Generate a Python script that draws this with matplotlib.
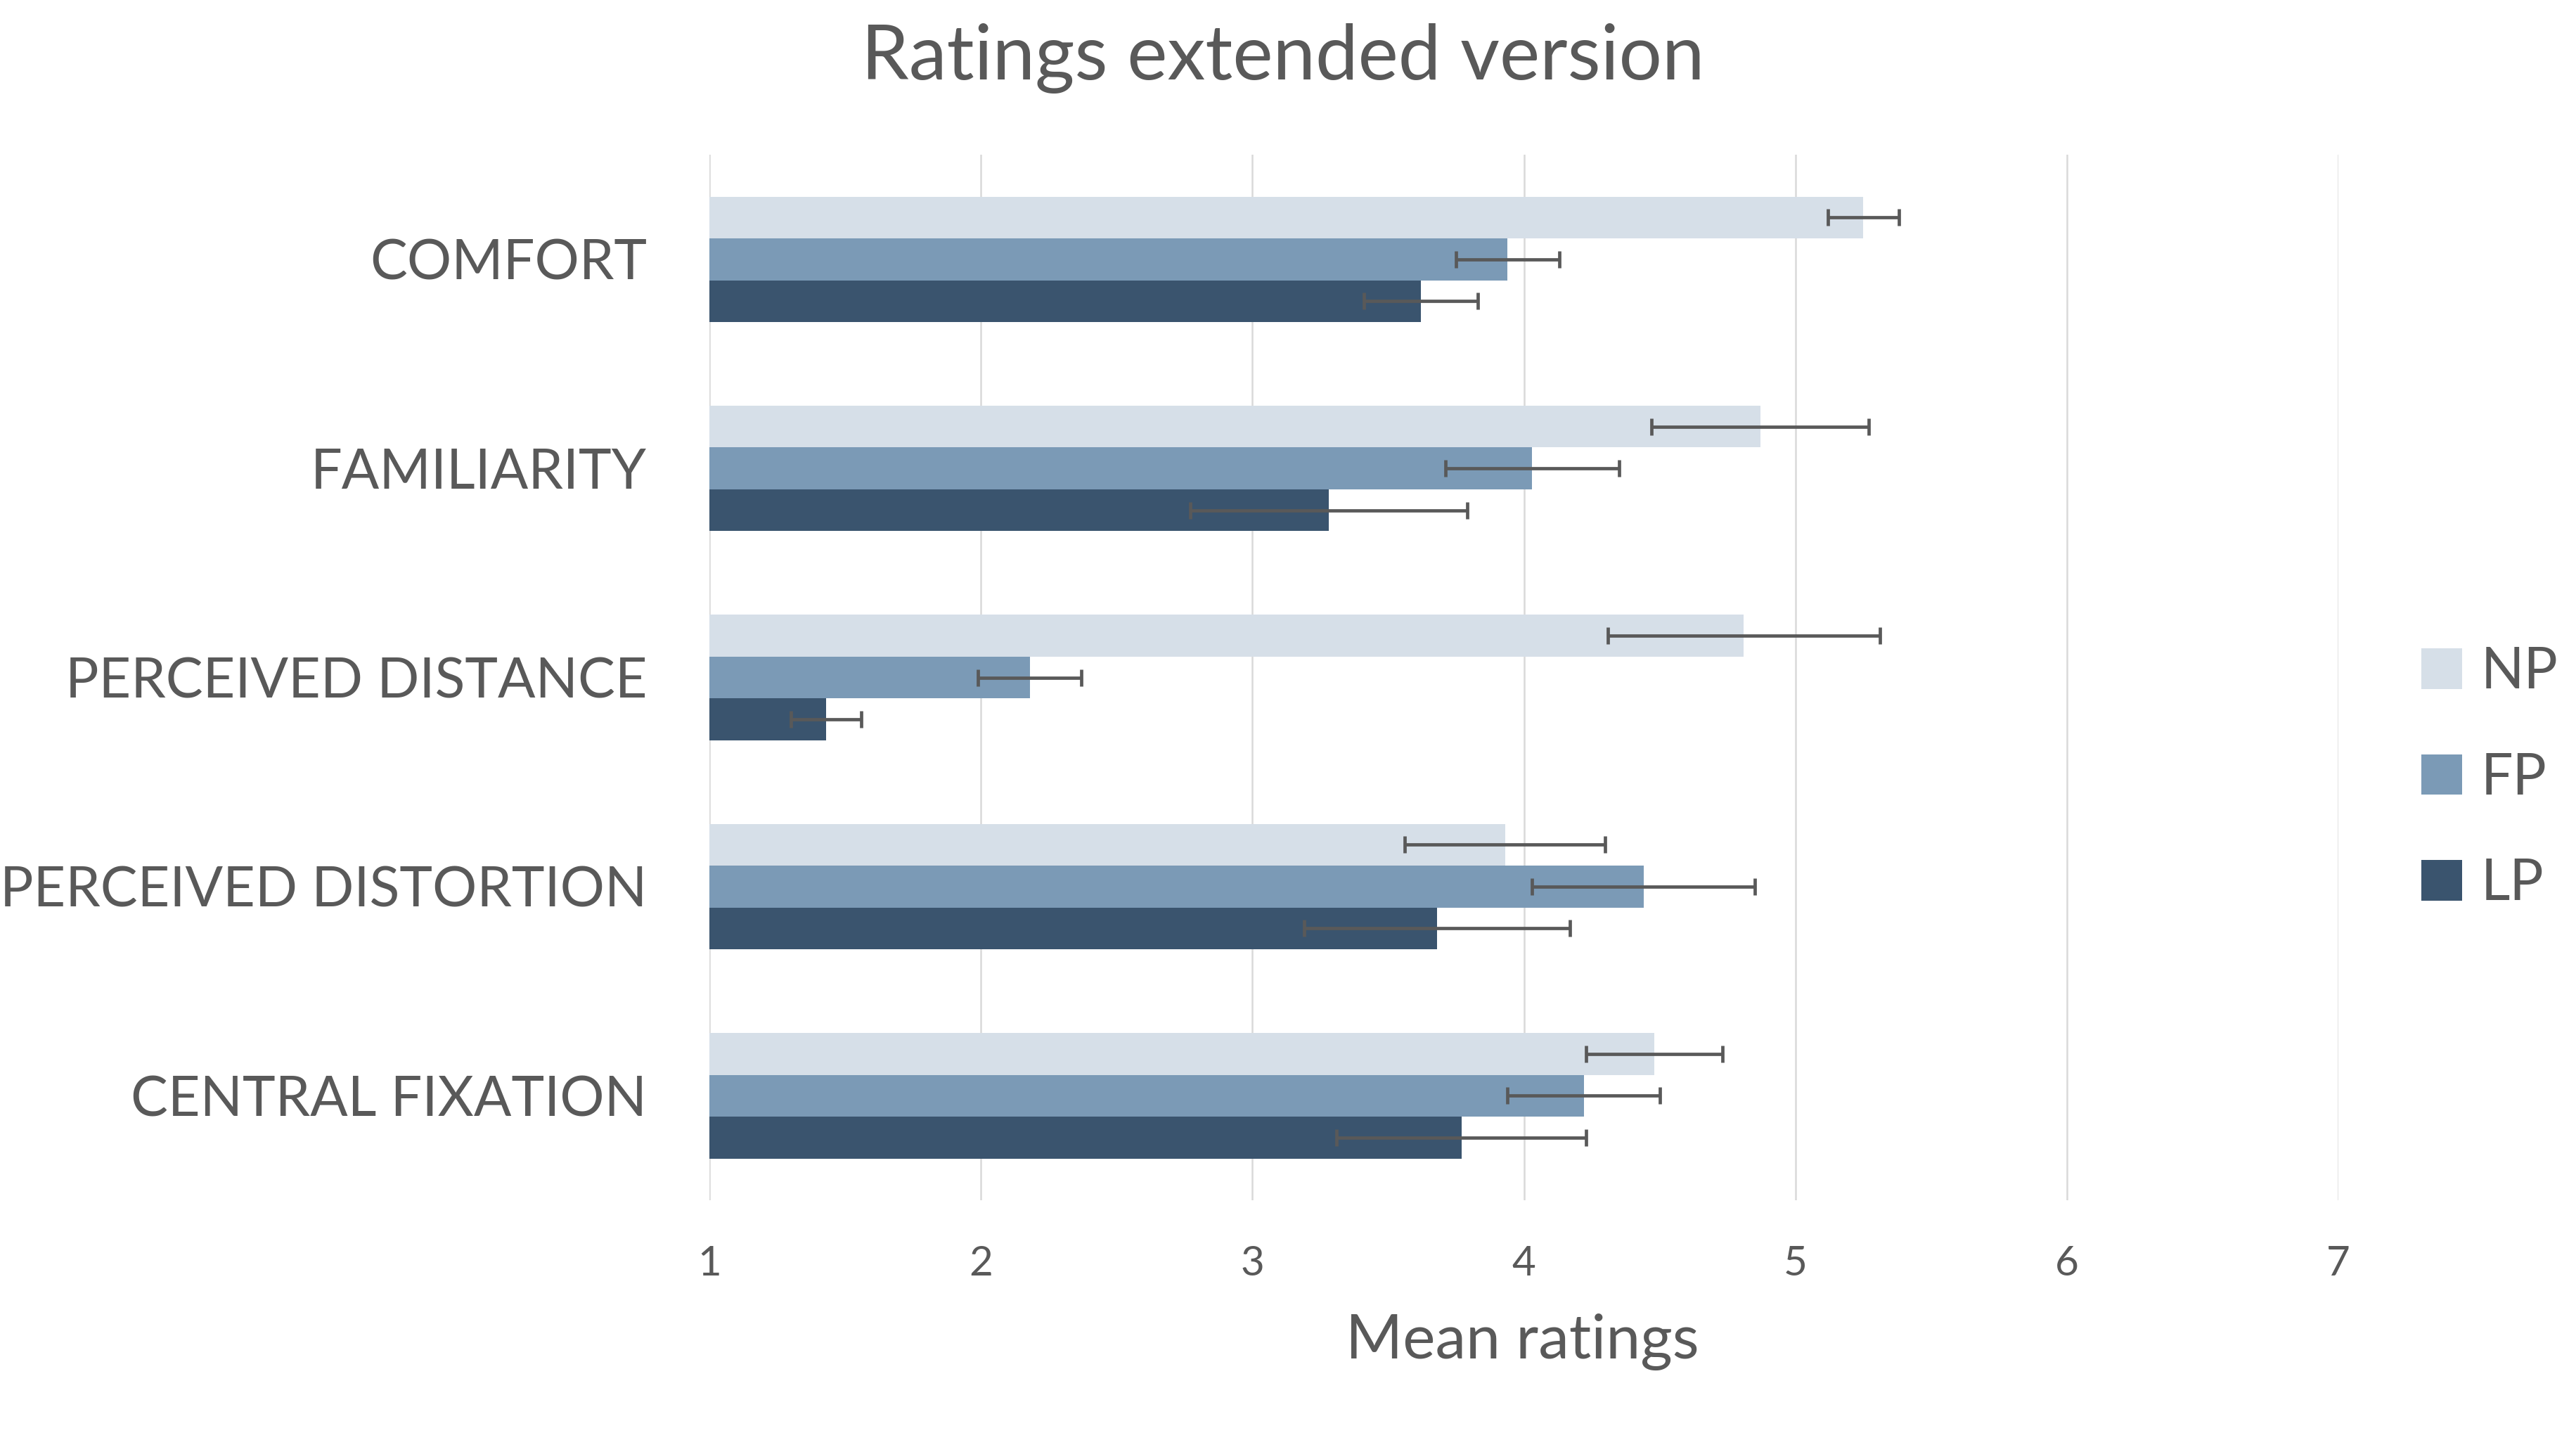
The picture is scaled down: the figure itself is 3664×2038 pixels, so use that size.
import matplotlib
matplotlib.use('Agg')
import matplotlib.pyplot as plt
import numpy as np

plt.rcParams['font.family'] = ['Lato', 'DejaVu Sans']

TEXT = '#595959'
GRID = '#D9D9D9'
ERR = '#595959'

categories = ['COMFORT', 'FAMILIARITY', 'PERCEIVED DISTANCE',
              'PERCEIVED DISTORTION', 'CENTRAL FIXATION']
series = ['NP', 'FP', 'LP']
colors = ['#D6DFE8', '#7B9AB6', '#3A546E']

np_mean = [5.25, 4.87, 4.81, 3.93, 4.48]
fp_mean = [3.94, 4.03, 2.18, 4.44, 4.22]
lp_mean = [3.62, 3.28, 1.43, 3.68, 3.77]

np_err = [0.13, 0.40, 0.50, 0.37, 0.25]
fp_err = [0.19, 0.32, 0.19, 0.41, 0.28]
lp_err = [0.21, 0.51, 0.13, 0.49, 0.46]

xticks = [1, 2, 3, 4, 5, 6, 7]

means = [np_mean, fp_mean, lp_mean]
errs = [np_err, fp_err, lp_err]

fig = plt.figure(figsize=(36.64, 20.38), dpi=100, facecolor='white')
ax = fig.add_axes([0.2754, 0.1624, 0.6324, 0.7296])

y = np.arange(len(categories))
h = 0.2
for i, (name, m, e, c) in enumerate(zip(series, means, errs, colors)):
    m = np.array(m)
    ax.barh(y + (i - 1) * h, m - 1, height=h, left=1, color=c,
            label=name, zorder=2)
    ax.errorbar(m, y + (i - 1) * h, xerr=e, fmt='none', ecolor=ERR,
                elinewidth=3.4, capsize=8.6, capthick=3.4, zorder=3)

ax.set_xlim(1, 7)
ax.set_ylim(4.5, -0.5)
ax.set_xticks(xticks)
ax.set_yticks(y)
ax.set_yticklabels(categories)
ax.tick_params(axis='x', length=0, pad=46, labelsize=42, labelcolor=TEXT)
ax.tick_params(axis='y', length=0, pad=64, labelsize=57, labelcolor=TEXT)
ax.grid(axis='x', color=GRID, lw=1.8, zorder=0)
ax.set_axisbelow(True)
for spine in ax.spines.values():
    spine.set_visible(False)

fig.text(0.498, 0.9446, 'Ratings extended version', ha='center',
         va='baseline', fontsize=78, color=TEXT)
fig.text(0.591, 0.052, 'Mean ratings', ha='center', va='baseline',
         fontsize=63, color=TEXT)

fig.legend(loc='center left', bbox_to_anchor=(0.940, 0.457),
           frameon=False, fontsize=58, handlelength=0.72,
           handleheight=0.72, handletextpad=0.33, labelspacing=0.95,
           borderpad=0, borderaxespad=0, labelcolor=TEXT)

plt.savefig('out.png', dpi=100, facecolor='white')
